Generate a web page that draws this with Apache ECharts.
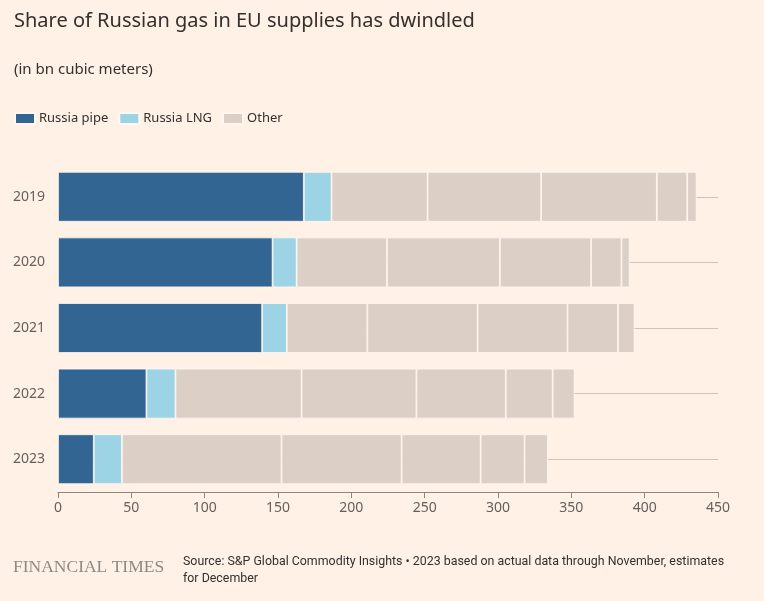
<!DOCTYPE html>
<html>
<head>
<meta charset="utf-8">
<script src="https://cdn.jsdelivr.net/npm/echarts@6/dist/echarts.min.js"></script>
<style>
  html, body { margin: 0; padding: 0; background: #fff1e5; }
  #chart { width: 764px; height: 601px; }
</style>
</head>
<body>
<div id="chart"></div>
<script>
// EU gas supplies, bn cubic meters
const years = ['2019', '2020', '2021', '2022', '2023']
const russiaPipe = [167.6, 146.3, 139.2, 60.3, 24.4]
const russiaLng = [18.9, 16.4, 16.8, 19.8, 19.2]
// "Other" is split into several sources, all drawn in the same colour
const otherA = [65.5, 61.6, 54.9, 86.0, 108.8]
const otherB = [77.4, 77.0, 75.2, 78.3, 81.9]
const otherC = [78.9, 62.2, 61.3, 60.9, 53.9]
const otherD = [20.7, 20.7, 34.4, 32.0, 29.9]
const otherE = [6.4, 5.5, 11.3, 14.9, 15.9]
const xTicks = [0, 50, 100, 150, 200, 250, 300, 350, 400, 450]

const textColor = '#33302e'
const axisColor = '#66605c'
const otherColor = '#dccfc6'

function barSeries (name, data, color) {
  return {
    name: name,
    type: 'bar',
    stack: 'total',
    data: data,
    barCategoryGap: '24%',
    itemStyle: { color: color, borderColor: '#fff8f2', borderWidth: 0.8 },
    emphasis: { disabled: true }
  }
}

const chart = echarts.init(document.getElementById('chart'))

const series = [
  barSeries('Russia pipe', russiaPipe, '#336592'),
  barSeries('Russia LNG', russiaLng, '#9dd4e5'),
  barSeries('Other', otherA, otherColor),
  barSeries('Other', otherB, otherColor),
  barSeries('Other', otherC, otherColor),
  barSeries('Other', otherD, otherColor),
  barSeries('Other', otherE, otherColor)
]
// horizontal rules through the middle of each bar, behind the bars
series[0].markLine = {
  silent: true,
  z: 1,
  symbol: 'none',
  label: { show: false },
  lineStyle: { color: '#cec3b9', width: 1, type: 'solid' },
  data: years.map(y => ({ yAxis: y }))
}

chart.setOption({
  backgroundColor: '#fff1e5',
  animation: false,
  title: [
    {
      text: 'Share of Russian gas in EU supplies has dwindled',
      left: 14, top: 11, padding: 0,
      textStyle: { fontFamily: 'Noto Sans', fontSize: 20, fontWeight: 'normal', color: textColor }
    },
    {
      text: '(in bn cubic meters)',
      left: 14, top: 62, padding: 0,
      textStyle: { fontFamily: 'Noto Sans', fontSize: 15, fontWeight: 'normal', color: textColor }
    }
  ],
  legend: {
    data: ['Russia pipe', 'Russia LNG', 'Other'],
    left: 14, top: 112, padding: 0,
    itemWidth: 20, itemHeight: 11, itemGap: 10,
    icon: 'rect',
    selectedMode: false,
    textStyle: { fontFamily: 'Noto Sans', fontSize: 13, color: textColor, padding: [0, 0, 0, -1] }
  },
  grid: { left: 58, right: 46, top: 164, height: 328, containLabel: false },
  xAxis: {
    type: 'value',
    min: xTicks[0],
    max: xTicks[xTicks.length - 1],
    interval: 50,
    axisLine: { show: true, lineStyle: { color: '#8c8580', width: 1 } },
    axisTick: { show: true, length: 6, lineStyle: { color: '#8c8580' } },
    axisLabel: { fontFamily: 'Noto Sans', fontSize: 14, color: axisColor, margin: 9 },
    splitLine: { show: false }
  },
  yAxis: {
    type: 'category',
    data: years,
    inverse: true,
    axisLine: { show: false },
    axisTick: { show: false },
    axisLabel: { fontFamily: 'Noto Sans', fontSize: 14, color: axisColor, margin: 13 },
    splitLine: { show: false }
  },
  series: series,
  graphic: [
    {
      type: 'text', left: 13, top: 558,
      style: { text: 'FINANCIAL TIMES', font: '17.5px "Liberation Serif"', fill: '#8f8a85' }
    },
    {
      type: 'text', left: 183, top: 553,
      style: {
        text: 'Source: S&P Global Commodity Insights • 2023 based on actual data through November, estimates\nfor December',
        font: '12.4px "Roboto"', fill: textColor, lineHeight: 17
      }
    }
  ]
})
</script>
</body>
</html>
